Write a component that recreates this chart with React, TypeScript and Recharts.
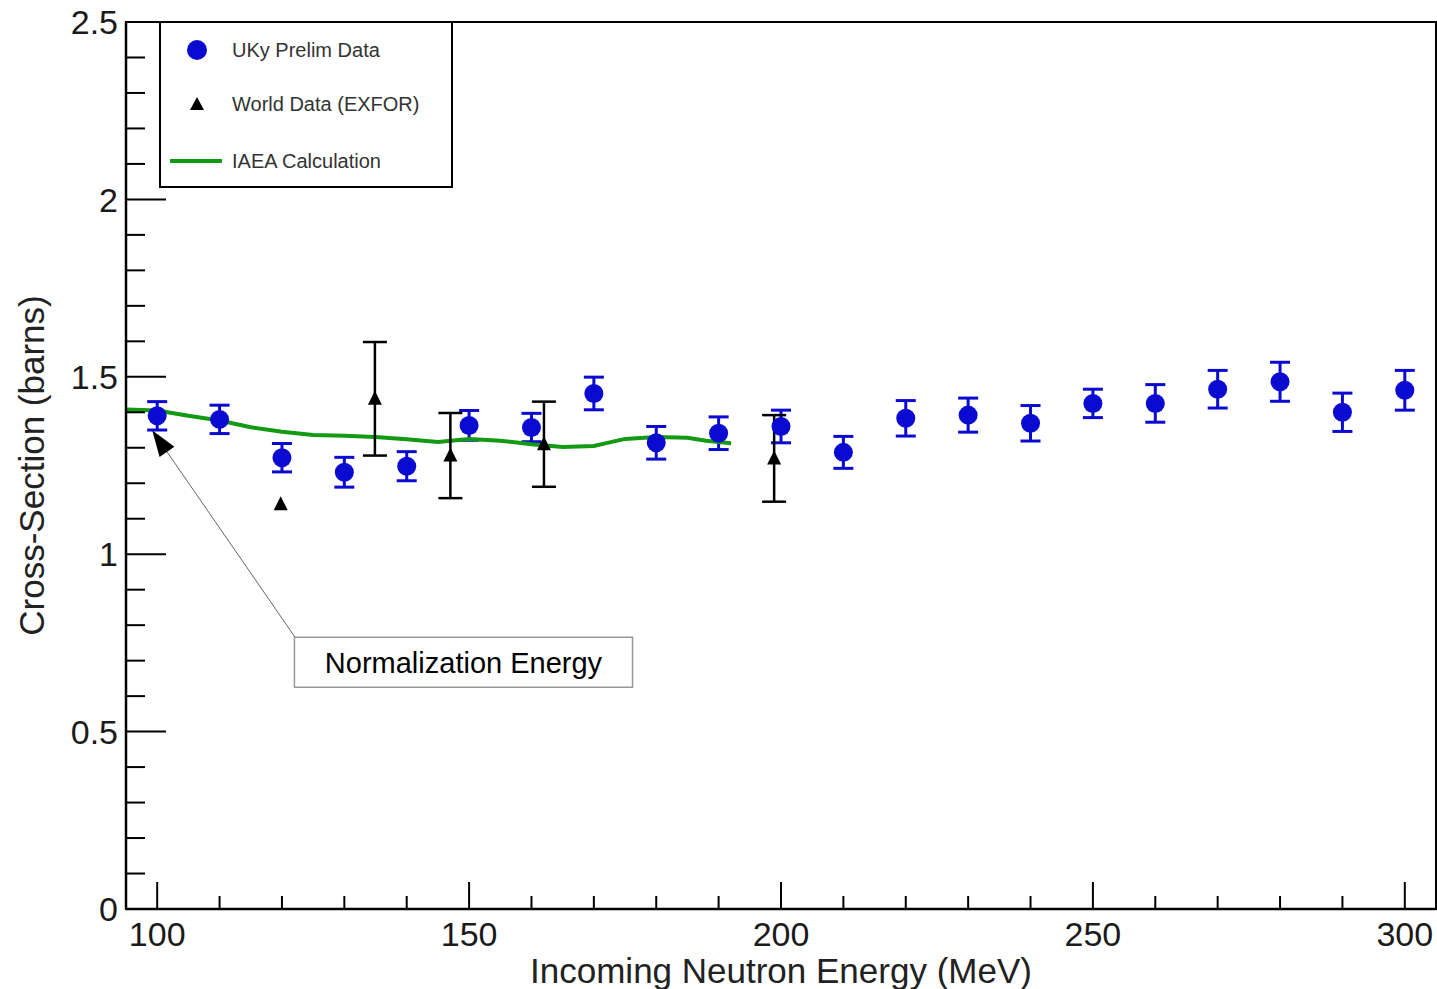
import {
  ComposedChart,
  Scatter,
  Line,
  XAxis,
  YAxis,
  ErrorBar,
  ReferenceArea,
  ReferenceLine,
} from "recharts";

// UKy preliminary cross sections (blue points)
const ukyEnergy = [100, 110, 120, 130, 140, 150, 160, 170, 180, 190, 200, 210, 220, 230, 240, 250, 260, 270, 280, 290, 300];
const ukyXs = [1.39, 1.38, 1.272, 1.231, 1.248, 1.363, 1.357, 1.453, 1.314, 1.341, 1.36, 1.287, 1.383, 1.392, 1.369, 1.425, 1.425, 1.465, 1.486, 1.4, 1.462];
const ukyErr = [0.04, 0.04, 0.04, 0.042, 0.041, 0.042, 0.04, 0.046, 0.046, 0.046, 0.046, 0.045, 0.05, 0.048, 0.05, 0.04, 0.053, 0.053, 0.055, 0.054, 0.056];

// EXFOR world data (black triangles)
const exforEnergy = [119.8, 134.9, 147.0, 162.0, 198.9];
const exforXs = [1.141, 1.438, 1.278, 1.31, 1.27];
const exforErr = [0, 0.16, 0.12, 0.12, 0.122];

// IAEA calculation (green curve)
const iaeaEnergy = [95, 100, 105, 110, 115, 120, 125, 130, 135, 140, 145, 150, 155, 160, 165, 170, 172, 175, 180, 185, 188, 192];
const iaeaXs = [1.408, 1.405, 1.39, 1.377, 1.358, 1.345, 1.336, 1.334, 1.33, 1.324, 1.316, 1.325, 1.32, 1.31, 1.302, 1.305, 1.313, 1.325, 1.33, 1.328, 1.32, 1.313];

const xTicks = [100, 110, 120, 130, 140, 150, 160, 170, 180, 190, 200, 210, 220, 230, 240, 250, 260, 270, 280, 290, 300];
const yTicks = Array.from({ length: 26 }, (_, i) => Math.round(i * 10) / 100);

const BLUE = "#0a0ad0";
const GREEN = "#129a12";
const FONT = "'Liberation Sans', Arial, Helvetica, sans-serif";

const ukyData = ukyEnergy.map((e, i) => ({ x: e, y: ukyXs[i], err: ukyErr[i] }));
const exforData = exforEnergy.map((e, i) => ({ x: e, y: exforXs[i], err: exforErr[i] }));
const iaeaData = iaeaEnergy.map((e, i) => ({ x: e, y: iaeaXs[i] }));

function XTick(props: any) {
  const { x, y, payload } = props;
  const v = payload.value;
  const major = v % 50 === 0;
  return (
    <g>
      <line x1={x} x2={x} y1={y} y2={y - (major ? 27 : 13)} stroke="#000" strokeWidth={2} />
      {major && (
        <text x={x} y={y + 37} textAnchor="middle" fontSize={34} fontFamily={FONT} fill="#1a1a1a">
          {v}
        </text>
      )}
    </g>
  );
}

function YTick(props: any) {
  const { x, y, payload } = props;
  const v = payload.value;
  const major = Math.abs(v * 2 - Math.round(v * 2)) < 1e-6;
  return (
    <g>
      <line x1={x} x2={x + (major ? 40 : 19)} y1={y} y2={y} stroke="#000" strokeWidth={2} />
      {major && (
        <text x={x - 8} y={y} dy="0.36em" textAnchor="end" fontSize={34} fontFamily={FONT} fill="#1a1a1a">
          {String(v)}
        </text>
      )}
    </g>
  );
}

const Circle = (props: any) => <circle cx={props.cx} cy={props.cy} r={9.5} fill={BLUE} />;

const Triangle = (props: any) => {
  const { cx, cy } = props;
  return <polygon points={`${cx},${cy - 8} ${cx - 7},${cy + 6} ${cx + 7},${cy + 6}`} fill="#000" />;
};

const Arrow = (props: any) => {
  const { x1, y1, x2, y2 } = props;
  const dx = x2 - x1;
  const dy = y2 - y1;
  const len = Math.sqrt(dx * dx + dy * dy);
  const ux = dx / len;
  const uy = dy / len;
  const head = 26;
  const half = 9;
  const bx = x2 - ux * head;
  const by = y2 - uy * head;
  return (
    <g>
      <line x1={x1} y1={y1} x2={bx} y2={by} stroke="#666" strokeWidth={1} />
      <polygon
        points={`${x2},${y2} ${bx - uy * half},${by + ux * half} ${bx + uy * half},${by - ux * half}`}
        fill="#000"
      />
    </g>
  );
};

const XTitle = (props: any) => {
  const vb = props.viewBox;
  return (
    <text x={vb.x + vb.width / 2} y={983} textAnchor="middle" fontSize={35} fontFamily={FONT} fill="#222">
      Incoming Neutron Energy (MeV)
    </text>
  );
};

const YTitle = (props: any) => {
  const vb = props.viewBox;
  const cy = vb.y + vb.height / 2;
  return (
    <text
      x={31}
      y={cy}
      transform={`rotate(-90 31 ${cy})`}
      textAnchor="middle"
      dy="0.36em"
      fontSize={35}
      fontFamily={FONT}
      fill="#222"
    >
      Cross-Section (barns)
    </text>
  );
};

function LegendBox() {
  return (
    <svg
      width={294}
      height={167}
      style={{ position: "absolute", left: 159, top: 21 }}
    >
      <rect x={1} y={1} width={292} height={165} fill="#fff" stroke="#000" strokeWidth={2} />
      <circle cx={38} cy={29} r={10} fill={BLUE} />
      <text x={73} y={29} dy="0.36em" fontSize={20} fontFamily={FONT} fill="#333">
        UKy Prelim Data
      </text>
      <polygon points="38,76 31,89 45,89" fill="#000" />
      <text x={73} y={83} dy="0.36em" fontSize={20} fontFamily={FONT} fill="#333">
        World Data (EXFOR)
      </text>
      <line x1={11} x2={63} y1={140} y2={140} stroke={GREEN} strokeWidth={4} />
      <text x={73} y={140} dy="0.36em" fontSize={20} fontFamily={FONT} fill="#333">
        IAEA Calculation
      </text>
    </svg>
  );
}

export default function App() {
  return (
    <div style={{ position: "absolute", left: 0, top: 0, width: 1437, height: 989, background: "#fff" }}>
      <ComposedChart width={1437} height={989} margin={{ top: 22, right: 1, bottom: 0, left: 0 }}>
        <XAxis
          dataKey="x"
          type="number"
          domain={[95, 305]}
          ticks={xTicks}
          interval={0}
          allowDataOverflow
          height={80}
          tickSize={0}
          tickMargin={0}
          tick={<XTick />}
          axisLine={{ stroke: "#000", strokeWidth: 2.5 }}
          label={<XTitle />}
        />
        <YAxis
          dataKey="y"
          type="number"
          domain={[0, 2.5]}
          ticks={yTicks}
          interval={0}
          allowDataOverflow
          width={126}
          tickSize={0}
          tickMargin={0}
          tick={<YTick />}
          axisLine={{ stroke: "#000", strokeWidth: 2.5 }}
          label={<YTitle />}
        />
        <ReferenceArea x1={95} x2={305} y1={0} y2={2.5} fill="none" stroke="#000" strokeWidth={2} fillOpacity={0} />
        <ReferenceArea
          x1={122.0}
          x2={176.2}
          y1={0.625}
          y2={0.766}
          fill="#fff"
          fillOpacity={1}
          stroke="#999"
          strokeWidth={1.5}
          label={{ value: "Normalization Energy", position: "center", fontSize: 29, fill: "#000", fontFamily: FONT }}
        />
        <ReferenceLine
          segment={[
            { x: 122.1, y: 0.766 },
            { x: 99.2, y: 1.349 },
          ]}
          shape={<Arrow />}
        />
        <Scatter data={ukyData} shape={<Circle />} isAnimationActive={false}>
          <ErrorBar dataKey="err" direction="y" width={10} stroke={BLUE} strokeWidth={3} />
        </Scatter>
        <Line
          data={iaeaData}
          dataKey="y"
          type="linear"
          stroke={GREEN}
          strokeWidth={4}
          dot={false}
          activeDot={false}
          isAnimationActive={false}
        />
        <Scatter data={exforData} shape={<Triangle />} isAnimationActive={false}>
          <ErrorBar dataKey="err" direction="y" width={12} stroke="#000" strokeWidth={2.5} />
        </Scatter>
      </ComposedChart>
      <LegendBox />
    </div>
  );
}
